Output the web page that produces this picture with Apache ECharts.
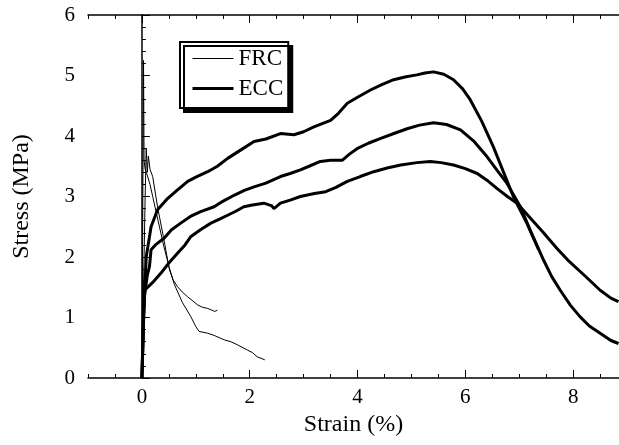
<!DOCTYPE html>
<html>
  <head>
    <meta charset="utf-8" />
    <title>Stress-strain</title>
    <script src="https://cdn.jsdelivr.net/npm/echarts@6/dist/echarts.min.js"></script>
  </head>
  <body style="margin:0">
    <div id="main" style="width: 619px; height: 445px"></div>
    <script type="text/javascript">
      // strain (%) / stress (MPa) pairs
      var frcA = [[0,0],[0.03,5.25],[0.04,3.6],[0.06,3.45],[0.1,3.35],[0.15,3.2],[0.2,3.0],[0.3,2.6],[0.4,2.2],
        [0.5,1.85],[0.6,1.55],[0.75,1.25],[0.91,1.01],[1.0,0.85],[1.06,0.77],[1.22,0.74],[1.35,0.7],[1.53,0.63],
        [1.65,0.6],[1.77,0.55],[1.96,0.46],[2.05,0.42],[2.14,0.35],[2.28,0.3]];
      var frcB = [[0,0],[0.06,3.0],[0.08,3.8],[0.1,3.4],[0.12,3.67],[0.15,3.45],[0.2,3.33],[0.29,2.83],[0.41,2.28],
        [0.51,1.79],[0.58,1.62],[0.66,1.51],[0.75,1.42],[0.85,1.34],[0.95,1.27],[1.03,1.21],[1.12,1.17],[1.22,1.15],
        [1.3,1.12],[1.35,1.1],[1.4,1.12]];
      var eccTop = [[0,0],[0.04,1.2],[0.08,2.0],[0.17,2.5],[0.29,2.78],[0.48,2.97],[0.65,3.1],[0.85,3.25],[1.0,3.32],
        [1.22,3.41],[1.4,3.5],[1.59,3.63],[1.8,3.75],[2.08,3.91],[2.3,3.95],[2.57,4.04],[2.82,4.02],[3.0,4.07],
        [3.19,4.15],[3.5,4.26],[3.65,4.38],[3.81,4.54],[4.0,4.64],[4.24,4.76],[4.45,4.85],[4.67,4.93],[4.9,4.98],
        [5.1,5.01],[5.25,5.04],[5.41,5.06],[5.6,5.02],[5.78,4.93],[5.95,4.78],[6.09,4.6],[6.3,4.25],[6.52,3.82],
        [6.7,3.42],[6.89,3.0],[7.14,2.56],[7.36,2.12]];
      var eccMid = [[0,0],[0.04,1.3],[0.1,1.7],[0.14,1.84],[0.17,2.12],[0.25,2.2],[0.41,2.31],[0.55,2.45],[0.72,2.56],
        [0.9,2.67],[1.09,2.75],[1.34,2.83],[1.5,2.92],[1.71,3.02],[1.9,3.1],[2.08,3.16],[2.3,3.22],[2.57,3.33],
        [2.75,3.38],[2.94,3.44],[3.1,3.5],[3.31,3.58],[3.5,3.6],[3.72,3.6],[3.85,3.7],[3.99,3.79],[4.2,3.88],
        [4.43,3.96],[4.7,4.05],[4.92,4.12],[5.15,4.18],[5.41,4.22],[5.65,4.19],[5.91,4.1],[6.15,3.92],[6.4,3.66],
        [6.6,3.42],[6.77,3.22],[7.02,2.83],[7.2,2.45],[7.45,1.95],[7.6,1.68],[7.76,1.45],[7.95,1.2],[8.13,1.01],
        [8.3,0.86],[8.5,0.74],[8.7,0.62],[8.84,0.57]];
      var eccLow = [[0,0],[0.03,1.0],[0.05,1.45],[0.2,1.58],[0.35,1.73],[0.5,1.9],[0.66,2.06],[0.8,2.2],[0.91,2.34],
        [1.1,2.46],[1.28,2.56],[1.45,2.63],[1.59,2.69],[1.75,2.76],[1.89,2.83],[2.05,2.86],[2.26,2.89],[2.4,2.85],
        [2.45,2.8],[2.57,2.89],[2.75,2.94],[2.94,3.0],[3.2,3.05],[3.41,3.08],[3.6,3.15],[3.81,3.25],[4.05,3.33],
        [4.3,3.41],[4.55,3.47],[4.8,3.52],[5.1,3.56],[5.35,3.58],[5.55,3.56],[5.78,3.52],[6.0,3.46],[6.22,3.38],
        [6.4,3.27],[6.59,3.13],[6.78,3.0],[6.96,2.89],[7.2,2.65],[7.45,2.4],[7.7,2.14],[7.9,1.95],[8.13,1.76],
        [8.3,1.62],[8.5,1.45],[8.7,1.32],[8.84,1.26]];

      var xLabels = [0, 2, 4, 6, 8];
      var xMinorTicks = [-1, -0.5, 0, 0.5, 1, 1.5, 2, 2.5, 3, 3.5, 4, 4.5, 5, 5.5, 6, 6.5, 7, 7.5, 8, 8.5];
    </script>

    <script type="text/javascript">
      var myChart = echarts.init(document.getElementById("main"));
      var font = "Liberation Serif";
      var black = "#000";

      function xAx(pos, major, withLabel) {
        return {
          type: "value",
          min: -1,
          max: 8.85,
          interval: 0.5,
          position: pos,
          splitLine: { show: false },
          axisLine: { show: !major, onZero: false, lineStyle: { color: black, width: 1.5 } },
          axisTick: {
            inside: true,
            length: major ? 8 : 4,
            customValues: major ? xLabels : xMinorTicks,
            lineStyle: { color: black, width: 1 },
          },
          axisLabel: withLabel
            ? { customValues: xLabels, color: black, fontFamily: font, fontSize: 21, margin: 9 }
            : { show: false },
        };
      }

      var xMain = xAx("bottom", false, true);
      xMain.name = "Strain (%)";
      xMain.nameLocation = "middle";
      xMain.nameGap = 29;
      xMain.nameTextStyle = { color: black, fontFamily: font, fontSize: 24 };

      function line(name, data, w) {
        return {
          name: name,
          type: "line",
          data: data,
          symbol: "none",
          showSymbol: false,
          xAxisIndex: 0,
          color: black,
          lineStyle: { color: black, width: w },
          animation: false,
        };
      }

      var option = {
        animation: false,
        grid: { left: 88, right: 0, top: 15, bottom: 67 },
        legend: {
          data: [
            { name: "FRC", lineStyle: { width: 1 } },
            { name: "ECC", lineStyle: { width: 3 } },
          ],
          orient: "vertical",
          left: 180,
          top: 42,
          padding: [5, 5, 8, 11],
          itemWidth: 41,
          itemHeight: 14,
          itemGap: 7,
          itemStyle: { opacity: 0 },
          backgroundColor: "#fff",
          borderColor: black,
          borderWidth: 2,
          shadowColor: black,
          shadowBlur: 0,
          shadowOffsetX: 4,
          shadowOffsetY: 4,
          textStyle: { color: black, fontFamily: font, fontSize: 23 },
        },
        xAxis: [xMain, xAx("bottom", true, false), xAx("top", false, false), xAx("top", true, false)],
        yAxis: {
          type: "value",
          min: 0,
          max: 6,
          interval: 1,
          name: "Stress (MPa)",
          nameLocation: "middle",
          nameGap: 54,
          nameTextStyle: { color: black, fontFamily: font, fontSize: 24 },
          splitLine: { show: false },
          axisLine: { show: true, lineStyle: { color: black, width: 1.5 } },
          axisTick: { inside: true, length: 8, lineStyle: { color: black } },
          minorTick: { show: true, splitNumber: 5, length: 4, lineStyle: { color: black } },
          axisLabel: { color: black, fontFamily: font, fontSize: 21, margin: 13 },
        },
        series: [
          line("FRC", frcA, 1),
          line("FRC", frcB, 1),
          line("ECC", eccTop, 3),
          line("ECC", eccMid, 3),
          line("ECC", eccLow, 3),
        ],
      };

      myChart.setOption(option);
    </script>
  </body>
</html>
